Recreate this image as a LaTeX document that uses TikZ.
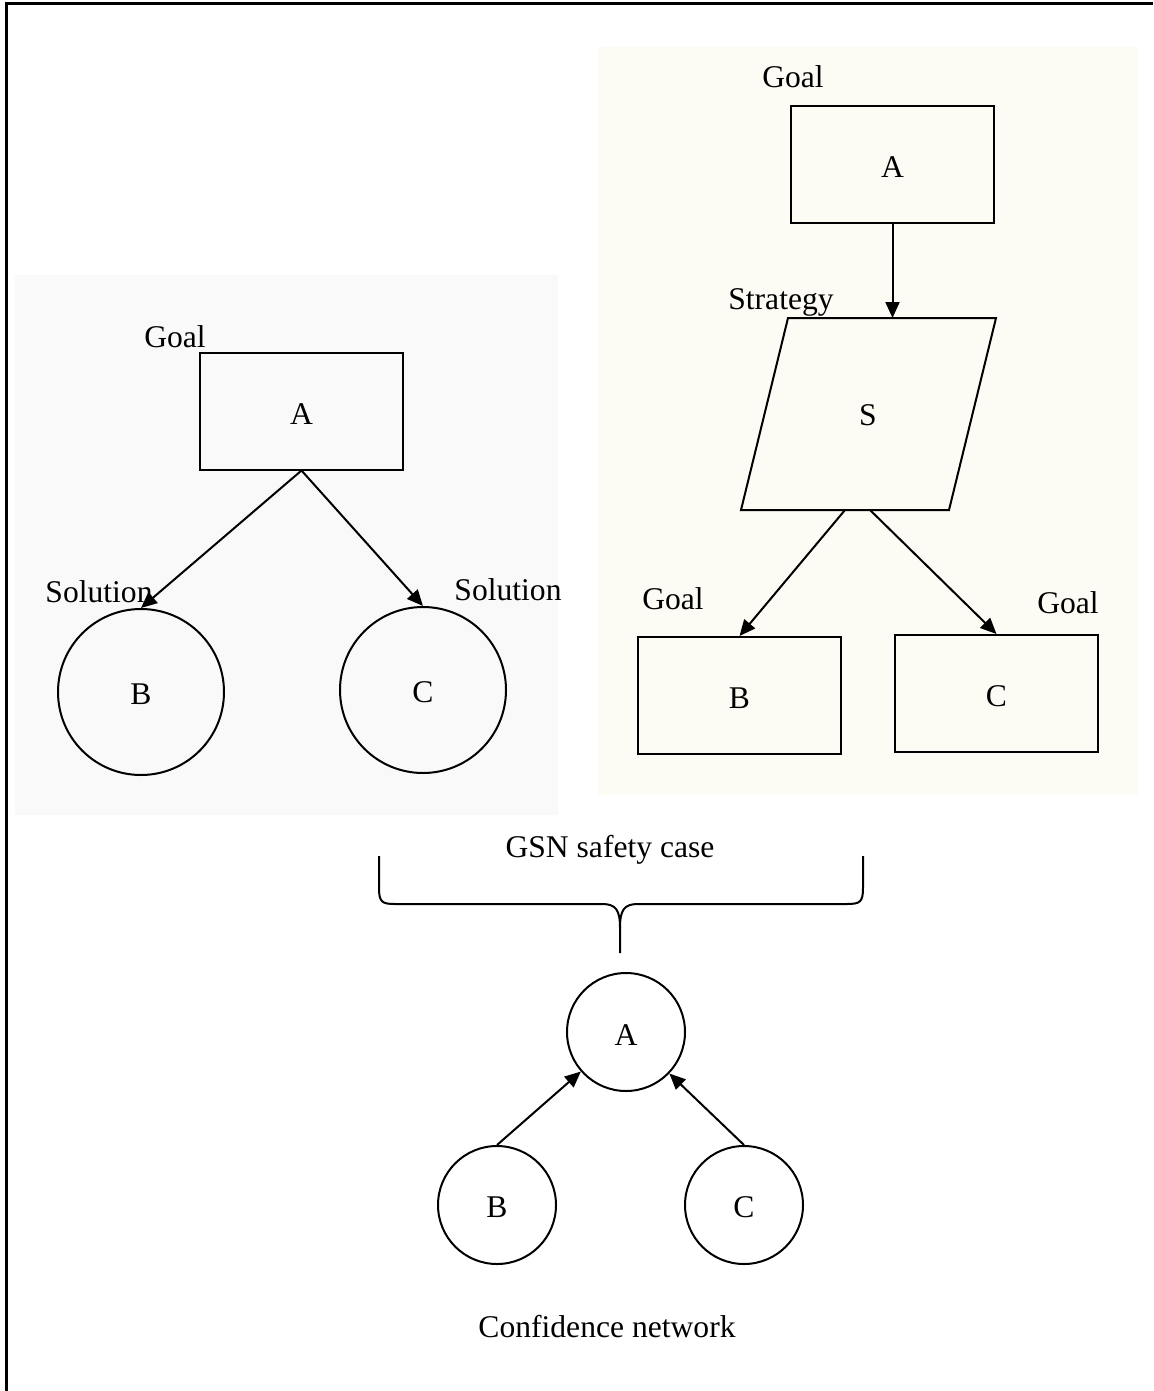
\documentclass[tikz,border=0pt]{standalone}
\usepackage{fontspec}
\setmainfont{Liberation Serif}
\usetikzlibrary{arrows.meta}
\definecolor{panelgray}{HTML}{F9F9F9}
\definecolor{panelcream}{HTML}{FCFCF4}
\begin{document}
\begin{tikzpicture}[x=0.5pt,y=-0.5pt,
  every node/.style={font=\fontsize{15.8}{19}\selectfont, inner sep=0pt},
  ln/.style={line width=1pt},
  lowtext/.style={text height=13pt},
  goalbox/.style={draw, ln, rectangle, lowtext, minimum width=101.5pt, minimum height=58.5pt},
  solcircle/.style={draw, ln, circle, lowtext, minimum size=83pt},
  netcircle/.style={draw, ln, circle, lowtext, minimum size=59pt},
  arr/.style={ln, -{Triangle[length=8pt,width=7pt]}},
  tag/.style={}
]
\useasboundingbox (0,0) rectangle (1153,1391);
\fill[white] (0,0) rectangle (1153,1391);

% frame (top and left edges)
\draw[line width=1.5pt] (1153,4) -- (6,4) -- (6,1391);

% panel backgrounds
\fill[panelgray] (15,275) rectangle (558,815);
\fill[panelcream] (598,47) rectangle (1138,795);

% left GSN fragment: goal supported by two solutions
\node[goalbox] (lA) at (301.5,411) {A};
\node[solcircle] (lB) at (141,692) {B};
\node[solcircle] (lC) at (423,690) {C};
\node[tag] (lAtag) at (175,337) {Goal};
\node[tag] (lBtag) at (99,592) {Solution};
\node[tag] (lCtag) at (508,590) {Solution};
\draw[arr] (lA.south) -- (lB.north);
\draw[arr] (lA.south) -- (lC.north);

% right GSN fragment: goal, strategy, two sub-goals
\node[goalbox] (rA) at (892.5,165) {A};
\node[tag] (rAtag) at (793,77) {Goal};
\coordinate (s1) at (788,318);
\coordinate (s2) at (996,318);
\coordinate (s3) at (949,510);
\coordinate (s4) at (741,510);
\draw[ln, line join=miter] (s1) -- (s2) -- (s3) -- (s4) -- cycle;
\node[lowtext] (rS) at (868,413) {S};
\node[tag] (rStag) at (781,302) {Strategy};
\coordinate (sTop) at (892.5,318);
\coordinate (sOutB) at (845,510);
\coordinate (sOutC) at (870,510);
\node[goalbox] (rB) at (739.5,695.5) {B};
\node[goalbox] (rC) at (996.5,693.5) {C};
\node[tag] (rBtag) at (673,599) {Goal};
\node[tag] (rCtag) at (1068,603) {Goal};
\draw[arr] (rA.south) -- (sTop);
\draw[arr] (sOutB) -- (rB.north);
\draw[arr] (sOutC) -- (rC.north);

% brace gathering the safety case
\node (gsn) at (610,850) {GSN safety case};
\coordinate (tip) at (620,953);
\draw[ln] (379,856) -- (379,888) .. controls (379,902) and (382,904) .. (395,904)
  -- (602,904) .. controls (616,904) and (620,910) .. (620,928) -- (tip);
\draw[ln] (863,856) -- (863,888) .. controls (863,902) and (860,904) .. (847,904)
  -- (638,904) .. controls (624,904) and (620,910) .. (620,928);

% confidence network
\node[netcircle] (nA) at (626,1032) {A};
\node[netcircle] (nB) at (497,1205) {B};
\node[netcircle] (nC) at (744,1205) {C};
\draw[arr] (nB.north) -- (nA);
\draw[arr] (nC.north) -- (nA);
\node (conf) at (607,1327) {Confidence network};
\end{tikzpicture}
\end{document}
